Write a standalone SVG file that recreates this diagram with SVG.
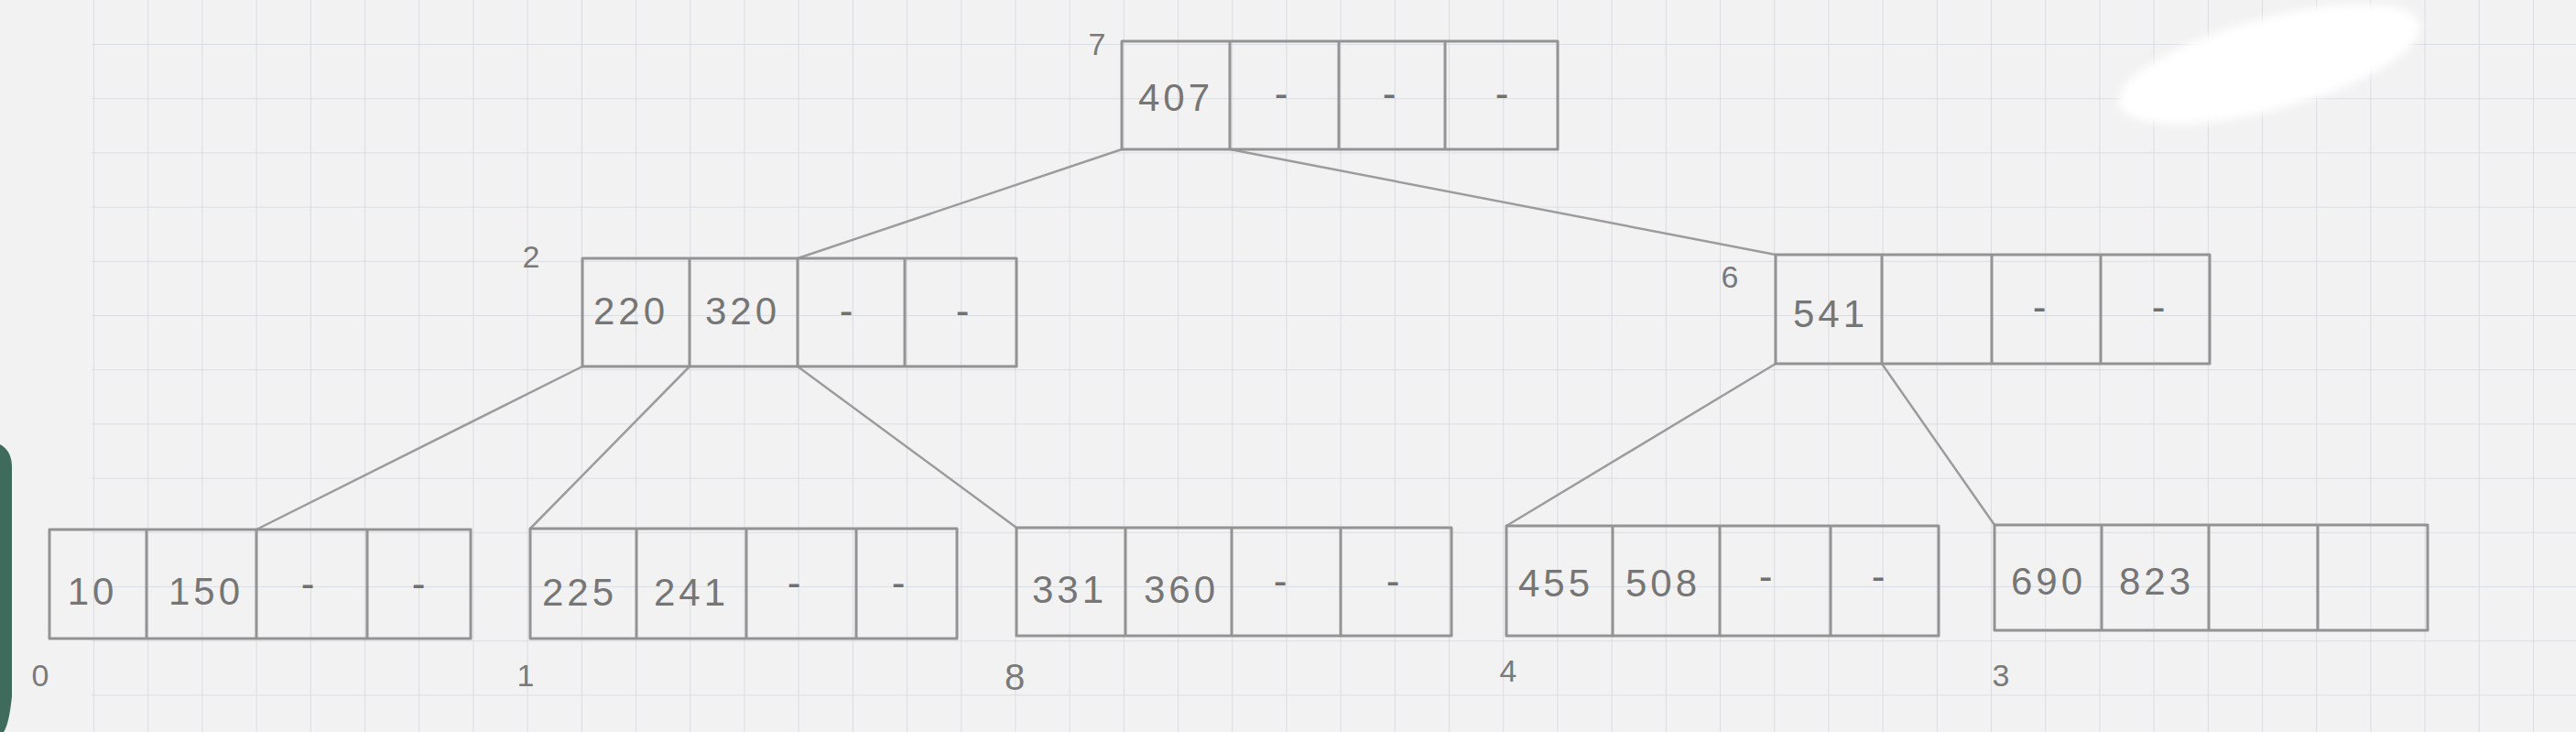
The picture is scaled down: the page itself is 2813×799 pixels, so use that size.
<svg xmlns="http://www.w3.org/2000/svg" width="2813" height="799" viewBox="0 0 2813 799">
<style>
.box{fill:none;stroke:#939393;stroke-width:3;stroke-linejoin:round}
.dv{stroke:#939393;stroke-width:3}
.edge{stroke:#9c9c9c;stroke-width:2.5;fill:none;stroke-linecap:round}
.key{font-family:"Liberation Sans",Arial,sans-serif;font-size:42px;fill:#767676;text-anchor:middle;letter-spacing:4px}
.dash{font-family:"Liberation Sans",Arial,sans-serif;font-size:44px;fill:#707070;text-anchor:middle}
.lbl{font-family:"Liberation Sans",Arial,sans-serif;font-size:34px;fill:#7a7a7a;text-anchor:middle}
</style>
<defs>
<pattern id="grid" patternUnits="userSpaceOnUse" x="102" y="48" width="59.2" height="59.2">
<path d="M0 0H59.2M0 0V59.2" stroke="#d4d7df" stroke-width="1.6" fill="none"/>
</pattern>
<filter id="soft" x="-20%" y="-50%" width="140%" height="200%"><feGaussianBlur stdDeviation="5"/></filter>
</defs>
<rect width="2813" height="799" fill="#f2f2f2"/>
<rect x="100" y="0" width="2713" height="799" fill="url(#grid)"/>
<path d="M0 485Q13 492 13 510L13 760Q10 790 4 799L0 799Z" fill="#3f6b5d"/>
<ellipse cx="2478" cy="70" rx="170" ry="50" transform="rotate(-15 2478 70)" fill="#ffffff" filter="url(#soft)"/>

<g id="connectors">
<line class="edge" x1="1225" y1="163" x2="871" y2="282"/>
<line class="edge" x1="1343" y1="163" x2="1939" y2="278"/>
<line class="edge" x1="636" y1="400" x2="280" y2="578"/>
<line class="edge" x1="753" y1="400" x2="579" y2="577"/>
<line class="edge" x1="871" y1="400" x2="1110" y2="576"/>
<line class="edge" x1="1939" y1="397" x2="1645" y2="574"/>
<line class="edge" x1="2055" y1="397" x2="2178" y2="573"/>
</g>

<g id="node7">
<rect class="box" x="1225" y="45" width="476" height="118"/>
<line class="dv" x1="1343" y1="45" x2="1343" y2="163"/>
<line class="dv" x1="1462" y1="45" x2="1462" y2="163"/>
<line class="dv" x1="1578" y1="45" x2="1578" y2="163"/>
<text class="key" x="1284" y="121">407</text>
<text class="dash" x="1399" y="117">-</text>
<text class="dash" x="1517" y="117">-</text>
<text class="dash" x="1640" y="117">-</text>
<text class="lbl" x="1198" y="60">7</text>
</g>

<g id="node2">
<rect class="box" x="636" y="282" width="474" height="118"/>
<line class="dv" x1="753" y1="282" x2="753" y2="400"/>
<line class="dv" x1="871" y1="282" x2="871" y2="400"/>
<line class="dv" x1="988" y1="282" x2="988" y2="400"/>
<text class="key" x="689" y="354">220</text>
<text class="key" x="811" y="354">320</text>
<text class="dash" x="924" y="354">-</text>
<text class="dash" x="1051" y="354">-</text>
<text class="lbl" x="580" y="292">2</text>
</g>

<g id="node6">
<rect class="box" x="1939" y="278" width="474" height="119"/>
<line class="dv" x1="2055" y1="278" x2="2055" y2="397"/>
<line class="dv" x1="2175" y1="278" x2="2175" y2="397"/>
<line class="dv" x1="2294" y1="278" x2="2294" y2="397"/>
<text class="key" x="1999" y="357">541</text>
<text class="dash" x="2227" y="350">-</text>
<text class="dash" x="2357" y="350">-</text>
<text class="lbl" x="1889" y="314">6</text>
</g>

<g id="node0">
<rect class="box" x="54" y="578" width="460" height="119"/>
<line class="dv" x1="160" y1="578" x2="160" y2="697"/>
<line class="dv" x1="280" y1="578" x2="280" y2="697"/>
<line class="dv" x1="401" y1="578" x2="401" y2="697"/>
<text class="key" x="101" y="660">10</text>
<text class="key" x="225" y="660">150</text>
<text class="dash" x="336" y="652">-</text>
<text class="dash" x="457" y="652">-</text>
<text class="lbl" x="44" y="749">0</text>
</g>

<g id="node1">
<rect class="box" x="579" y="577" width="466" height="120"/>
<line class="dv" x1="695" y1="577" x2="695" y2="697"/>
<line class="dv" x1="815" y1="577" x2="815" y2="697"/>
<line class="dv" x1="935" y1="577" x2="935" y2="697"/>
<text class="key" x="633" y="661">225</text>
<text class="key" x="755" y="661">241</text>
<text class="dash" x="867" y="651">-</text>
<text class="dash" x="981" y="651">-</text>
<text class="lbl" x="574" y="749">1</text>
</g>

<g id="node8">
<rect class="box" x="1110" y="576" width="475" height="118"/>
<line class="dv" x1="1229" y1="576" x2="1229" y2="694"/>
<line class="dv" x1="1345" y1="576" x2="1345" y2="694"/>
<line class="dv" x1="1464" y1="576" x2="1464" y2="694"/>
<text class="key" x="1168" y="658">331</text>
<text class="key" x="1290" y="658">360</text>
<text class="dash" x="1398" y="649">-</text>
<text class="dash" x="1521" y="649">-</text>
<text class="lbl" x="1108" y="753" style="font-size:40px">8</text>
</g>

<g id="node4">
<rect class="box" x="1645" y="574" width="472" height="120"/>
<line class="dv" x1="1761" y1="574" x2="1761" y2="694"/>
<line class="dv" x1="1878" y1="574" x2="1878" y2="694"/>
<line class="dv" x1="1999" y1="574" x2="1999" y2="694"/>
<text class="key" x="1699" y="651">455</text>
<text class="key" x="1816" y="651">508</text>
<text class="dash" x="1928" y="644">-</text>
<text class="dash" x="2051" y="644">-</text>
<text class="lbl" x="1647" y="744">4</text>
</g>

<g id="node3">
<rect class="box" x="2178" y="573" width="473" height="115"/>
<line class="dv" x1="2295" y1="573" x2="2295" y2="688"/>
<line class="dv" x1="2412" y1="573" x2="2412" y2="688"/>
<line class="dv" x1="2531" y1="573" x2="2531" y2="688"/>
<text class="key" x="2237" y="649">690</text>
<text class="key" x="2355" y="649">823</text>
<text class="lbl" x="2185" y="749">3</text>
</g>
</svg>
